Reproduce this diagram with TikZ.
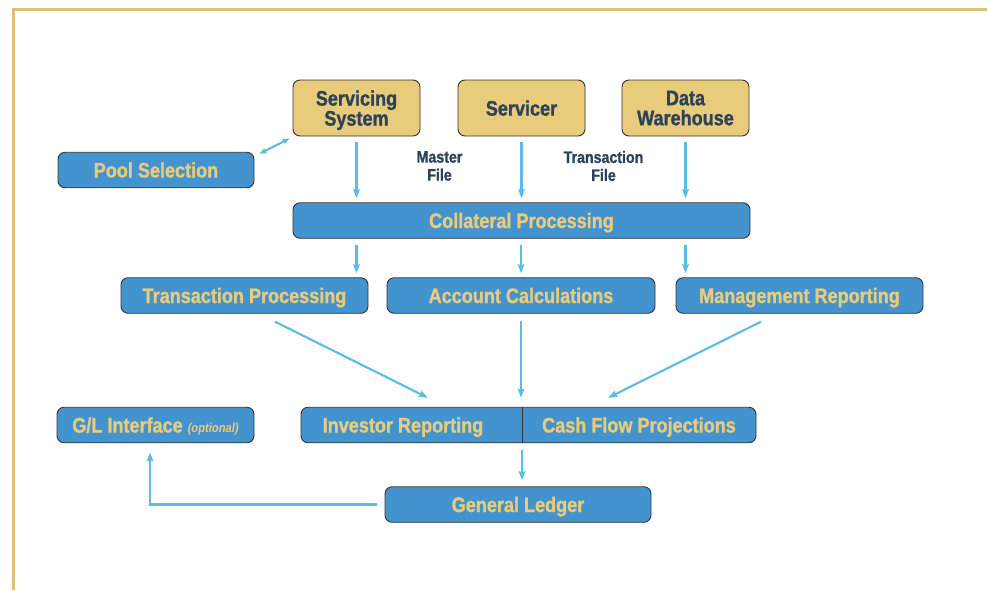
\documentclass[tikz,border=0pt]{standalone}
\usepackage{fontspec}
\setmainfont{Liberation Sans}[FakeStretch=0.86, BoldFeatures={FakeBold=1.2}]
\usepackage{tikz}
\usetikzlibrary{calc,arrows.meta}
\definecolor{frame}{HTML}{DEC078}
\definecolor{boxblue}{HTML}{4393CF}
\definecolor{sand}{HTML}{E8CB7B}
\definecolor{slate}{HTML}{2C4358}
\definecolor{flowc}{HTML}{5BBDE5}
\definecolor{rim}{HTML}{333333}
\tikzset{
  box/.style={draw=rim, line width=0.9pt, rounded corners=7pt, inner sep=0pt, text depth=0pt, font=\bfseries\fontsize{21}{20}\selectfont},
  src/.style={box, fill=sand, text=slate, align=center, minimum width=127pt, minimum height=56pt},
  proc/.style={box, fill=boxblue, text=sand, minimum height=35.5pt, text height=15pt},
  lbl/.style={text=sand, inner sep=0pt, text height=15pt, text depth=0pt, font=\bfseries\fontsize{21}{20}\selectfont},
  note/.style={text=slate, align=center, font=\bfseries\fontsize{16.5}{18}\selectfont},
  flow/.style={draw=flowc, line width=2.1pt, -{Stealth[length=9pt,width=6.5pt,inset=1pt]}, shorten <=6pt, shorten >=4pt},
}

\begin{document}
\begin{tikzpicture}[x=1pt,y=-1pt]
  \useasboundingbox (0,0) rectangle (987,590);
  \draw[frame, line width=3pt] (987,9.5) -- (13.5,9.5) -- (13.5,590);
  % feeds
  \node[src] (ss) at (356.5,108) {Servicing\\System};
  \node[src] (sv) at (521.5,108) {Servicer};
  \node[src] (dw) at (685.5,108) {Data\\Warehouse};
  \node[note] (mf) at (439.5,166) {Master\\File};
  \node[note] (tf) at (603.5,166) {Transaction\\File};
  \node[proc, minimum width=196pt] (ps) at (156,170) {Pool Selection};
  \node[proc, minimum width=457pt] (cp) at (521.5,220.5) {Collateral Processing};
  % processing row
  \node[proc, minimum width=247pt] (tp) at (244.5,295.5) {Transaction Processing};
  \node[proc, minimum width=268pt] (ac) at (521,295.5) {Account Calculations};
  \node[proc, minimum width=247pt] (mr) at (799.5,295.5) {Management Reporting};
  % outputs
  \node[proc, minimum width=197pt] (gli) at (155.5,425) {G/L Interface {\itshape\fontsize{13}{13}\selectfont(optional)}};
  \node[proc, minimum width=455pt] (out) at (528.5,425) {};
  \node[lbl] (ir) at (403,425) {Investor Reporting};
  \node[lbl] (cf) at (639,425) {Cash Flow Projections};
  \coordinate (mid) at (522,425);
  \draw[rim, line width=0.9pt] (out.north -| mid) -- (out.south -| mid);
  \node[proc, minimum width=266pt] (gl) at (518,504.5) {General Ledger};

  \draw[flow, {Stealth[length=7pt,width=5.5pt,inset=1pt]}-{Stealth[length=7pt,width=5.5pt,inset=1pt]}, shorten <=0pt, shorten >=0pt]
    ($(ps.north east)+(5,2)$) -- ($(ss.south west)+(-3,2)$);
  \draw[flow] (ss.south) -- (ss.south |- cp.north);
  \draw[flow] (sv.south) -- (sv.south |- cp.north);
  \draw[flow] (dw.south) -- (dw.south |- cp.north);
  \draw[flow] (cp.south -| ss) -- (tp.north -| ss);
  \draw[flow] (cp.south -| ac) -- (ac.north);
  \draw[flow] (cp.south -| dw) -- (mr.north -| dw);
  \draw[flow, shorten <=0pt, shorten >=0pt] ($(tp.south)+(30.5,8)$) -- ($(out.north)+(-100.5,-9)$);
  \draw[flow, shorten <=7pt, shorten >=9pt] (ac.south) -- (ac.south |- out.north);
  \draw[flow, shorten <=0pt, shorten >=0pt] ($(mr.south)+(-38.5,8)$) -- ($(out.north)+(79.5,-9)$);
  \draw[flow, shorten <=7pt, shorten >=6pt] (out.south -| mid) -- (gl.north -| mid);
  \draw[flow, shorten <=8pt, shorten >=9pt] (gl.west) -| ($(gli.south)+(-5.5,0)$);
\end{tikzpicture}
\end{document}
